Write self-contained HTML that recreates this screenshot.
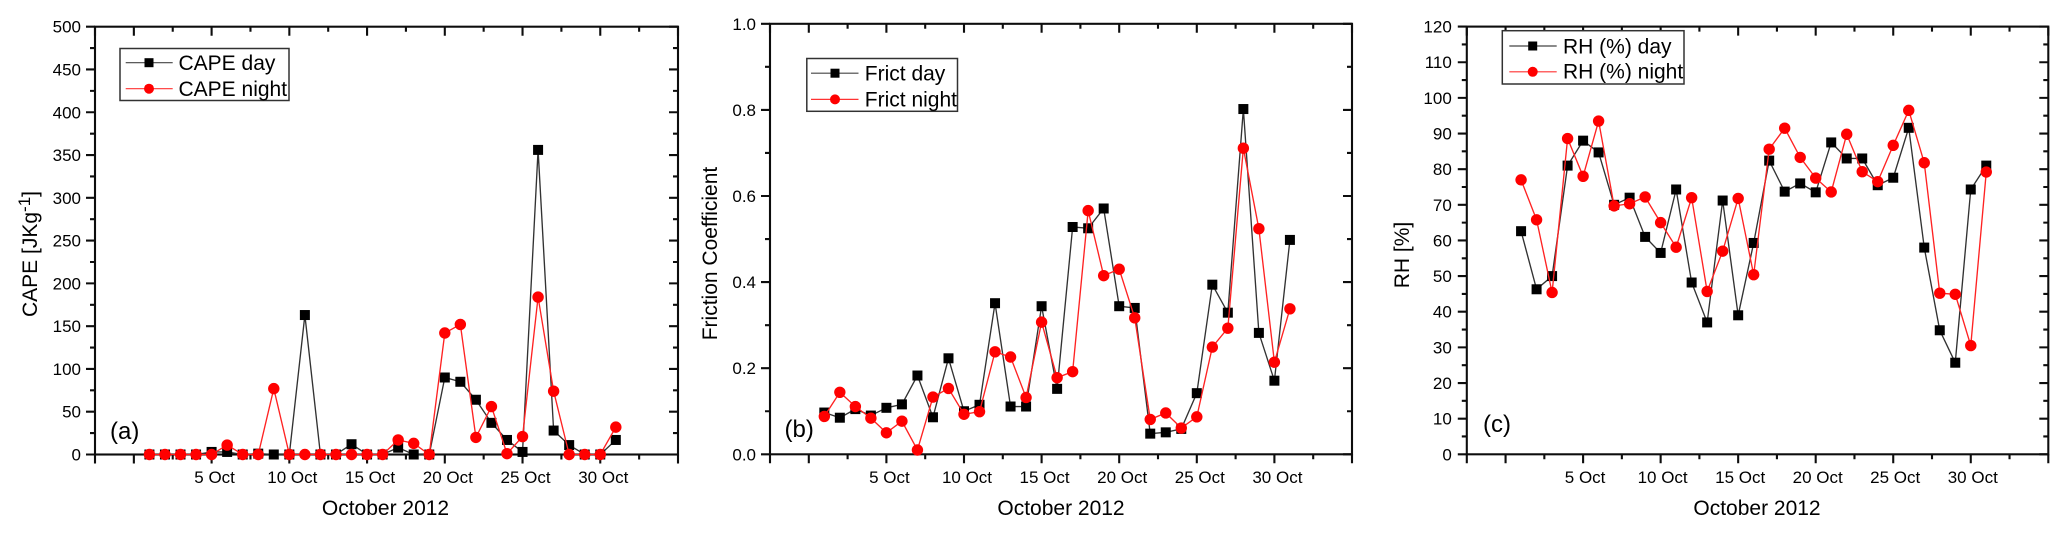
<!DOCTYPE html>
<html lang="en">
<head>
<meta charset="utf-8">
<title>CAPE, Friction Coefficient and RH, October 2012</title>
<style>
html,body{margin:0;padding:0;background:#fff;width:2067px;height:534px;overflow:hidden}
svg{display:block}
text{font-family:"Liberation Sans",Arial,sans-serif;fill:#000}
.tick{font-size:17px}
.leg{font-size:21px}
.title{font-size:21px}
.tag{font-size:24px}
</style>
</head>
<body>
<svg id="figure" xmlns="http://www.w3.org/2000/svg" width="2067" height="534" viewBox="0 0 2067 534">
<defs>
  <filter id="soft" x="-2%" y="-2%" width="104%" height="104%"><feGaussianBlur stdDeviation="0.35"/></filter>
</defs>
<rect x="0" y="0" width="2067" height="534" fill="#fff"/>

<g id="panel-a">
  <text class="title" x="385.5" y="515" text-anchor="middle">October 2012</text>
  <text class="title" transform="translate(37,254) rotate(-90)" text-anchor="middle">CAPE [JKg<tspan font-size="17" dy="-7">-1</tspan><tspan dy="7">]</tspan></text>
  <text class="tag" x="110" y="439">(a)</text>
</g>
<g id="panel-b">
  <text class="title" x="1061" y="515" text-anchor="middle">October 2012</text>
  <text class="title" transform="translate(717,253.5) rotate(-90)" text-anchor="middle">Friction Coefficient</text>
  <text class="tag" x="784.5" y="437">(b)</text>
</g>
<g id="panel-c">
  <text class="title" x="1757" y="515" text-anchor="middle">October 2012</text>
  <text class="title" transform="translate(1409,255) rotate(-90)" text-anchor="middle">RH [%]</text>
  <text class="tag" x="1483" y="432">(c)</text>
</g>

<g id="legend-a">
  <rect x="120" y="48.5" width="169" height="52" fill="#fff" stroke="#333" stroke-width="1.5"/>
  <line x1="125.7" y1="62.7" x2="172.7" y2="62.7" stroke="#444" stroke-width="1.2"/>
  <rect x="144.5" y="58.2" width="9" height="9" fill="#000"/>
  <text class="leg" x="178.5" y="70">CAPE day</text>
  <line x1="125.7" y1="88.7" x2="172.7" y2="88.7" stroke="#f33" stroke-width="1.2"/>
  <circle cx="149" cy="88.7" r="5" fill="#f00"/>
  <text class="leg" x="178.5" y="96">CAPE night</text>
</g>
<g id="legend-b">
  <rect x="806.8" y="58.5" width="150.7" height="52.8" fill="#fff" stroke="#333" stroke-width="1.5"/>
  <line x1="811" y1="73.2" x2="858.5" y2="73.2" stroke="#444" stroke-width="1.2"/>
  <rect x="830.5" y="68.7" width="9" height="9" fill="#000"/>
  <text class="leg" x="864.8" y="80.5">Frict day</text>
  <line x1="811" y1="99.4" x2="858.5" y2="99.4" stroke="#f33" stroke-width="1.2"/>
  <circle cx="835" cy="99.4" r="5" fill="#f00"/>
  <text class="leg" x="864.8" y="106.5">Frict night</text>
</g>
<g id="legend-c">
  <rect x="1502.3" y="30.7" width="181.7" height="53.3" fill="#fff" stroke="#333" stroke-width="1.5"/>
  <line x1="1509.3" y1="46" x2="1556.7" y2="46" stroke="#444" stroke-width="1.2"/>
  <rect x="1528.2" y="41.5" width="9" height="9" fill="#000"/>
  <text class="leg" x="1563" y="53.3">RH (%) day</text>
  <line x1="1509.3" y1="71.8" x2="1556.7" y2="71.8" stroke="#f33" stroke-width="1.2"/>
  <circle cx="1532.7" cy="71.8" r="5" fill="#f00"/>
  <text class="leg" x="1563" y="78.6">RH (%) night</text>
</g>
</svg>
<script>
const days = [1,2,3,4,5,6,7,8,9,10,11,12,13,14,15,16,17,18,19,20,21,22,23,24,25,26,27,28,29,30,31];
const dateTicks = [5,10,15,20,25,30];
const dateTickLabels = ["5 Oct","10 Oct","15 Oct","20 Oct","25 Oct","30 Oct"];

const capeDay = [0,0,0,0,3,3,0,1,0,0,163,0,0,12,0,0,8,0,0,90,85,64,37,17,3,356,28,11,0,0,17];
const capeNight = [0,0,0,0,0,11,0,0,77,0,0,0,0,0,0,0,17,13,0,142,152,20,56,1,21,184,74,0,0,0,32];
const capeTicks = [0,50,100,150,200,250,300,350,400,450,500];
const capeTickLabels = ["0","50","100","150","200","250","300","350","400","450","500"];

const frictDay = [0.097,0.085,0.105,0.09,0.108,0.116,0.183,0.086,0.223,0.1,0.115,0.351,0.111,0.111,0.344,0.152,0.528,0.525,0.571,0.344,0.34,0.048,0.051,0.059,0.142,0.394,0.329,0.802,0.282,0.171,0.498];
const frictNight = [0.088,0.144,0.111,0.084,0.05,0.077,0.01,0.133,0.153,0.093,0.099,0.238,0.226,0.132,0.307,0.178,0.192,0.566,0.415,0.43,0.317,0.081,0.096,0.061,0.087,0.249,0.293,0.711,0.524,0.214,0.338];
const frictTicks = [0,0.2,0.4,0.6,0.8,1];
const frictTickLabels = ["0.0","0.2","0.4","0.6","0.8","1.0"];

const rhDay = [62.6,46.3,50,81,88,84.7,70,72,61,56.5,74.3,48.2,37,71.2,39,59.3,82.4,73.7,76,73.5,87.5,83,83,75.5,77.6,91.6,58,34.8,25.7,74.3,81];
const rhNight = [77,65.8,45.4,88.6,78,93.5,69.7,70.3,72.2,65,58.1,72,45.7,57,71.8,50.4,85.6,91.5,83.3,77.5,73.6,89.8,79.3,76.5,86.7,96.5,81.8,45.2,44.9,30.5,79.2];
const rhTicks = [0,10,20,30,40,50,60,70,80,90,100,110,120];
const rhTickLabels = ["0","10","20","30","40","50","60","70","80","90","100","110","120"];

const NS = "http://www.w3.org/2000/svg";
const AXIS = "#111";

function make(parent, tag, attrs, text) {
  const el = document.createElementNS(NS, tag);
  for (const k in attrs) el.setAttribute(k, attrs[k]);
  if (text !== undefined) el.textContent = text;
  parent.appendChild(el);
  return el;
}

function drawPanel(cfg) {
  const root = document.getElementById(cfg.id);
  root.setAttribute("filter", "url(#soft)");
  const xDomain = [-2.5, 35];
  const sx = d => cfg.left + (d - xDomain[0]) * (cfg.right - cfg.left) / (xDomain[1] - xDomain[0]);
  const sy = v => cfg.bottom - v * (cfg.bottom - cfg.top) / cfg.yMax;

  const axes = make(root, "g", {stroke: AXIS, "stroke-width": 2.1, fill: "none"});
  
  
  make(axes, "rect", {x: cfg.left, y: cfg.top, width: cfg.right - cfg.left, height: cfg.bottom - cfg.top});

  // vertical-position ticks: outward on the left, inward on the right
  const yStep = cfg.yTicks[1] - cfg.yTicks[0];
  cfg.yTicks.forEach((v, i) => {
    const y = sy(v);
    const major = make(axes, "path", {d: `M${cfg.left - 9} ${y}H${cfg.left}M${cfg.right - 9} ${y}H${cfg.right}`});
    
    
    const lab = make(root, "text", {class: "tick", x: cfg.left - cfg.labelGap, y: y + 6, "text-anchor": "end"}, cfg.yLabels[i]);
    
    
    if (i < cfg.yTicks.length - 1) {
      const m = sy(v + yStep / 2);
      const minor = make(axes, "path", {d: `M${cfg.left - 5} ${m}H${cfg.left}M${cfg.right - 5} ${m}H${cfg.right}`});
      
      
    }
  });

  // date ticks: outward on the bottom, inward on the top
  for (let d = xDomain[0]; d <= xDomain[1]; d += 2.5) {
    const x = sx(d);
    const isMajor = d % 5 === 0 || d === xDomain[0];
    const len = isMajor ? 9 : 5;
    const t = make(axes, "path", {d: `M${x} ${cfg.bottom}V${cfg.bottom + len}M${x} ${cfg.top}V${cfg.top + len}`});
    
    
  }
  dateTicks.forEach((d, i) => {
    const lab = make(root, "text", {class: "tick", x: sx(d) + cfg.labelShift, y: 483, "text-anchor": "middle"}, dateTickLabels[i]);
    
    
  });

  // series: day first, night on top
  const dayLine = make(root, "polyline", {fill: "none", stroke: "#333", "stroke-width": 1.35,
    points: days.map((d, i) => `${sx(d)},${sy(cfg.day[i])}`).join(" ")});
  
  
  days.forEach((d, i) => {
    const p = make(root, "rect", {x: sx(d) - 5, y: sy(cfg.day[i]) - 5, width: 10, height: 10, fill: "#000"});
    
    
  });
  const nightLine = make(root, "polyline", {fill: "none", stroke: "#f22", "stroke-width": 1.35,
    points: days.map((d, i) => `${sx(d)},${sy(cfg.night[i])}`).join(" ")});
  
  
  days.forEach((d, i) => {
    const p = make(root, "circle", {cx: sx(d), cy: sy(cfg.night[i]), r: 5.7, fill: "#f00"});
    
    
  });
}

drawPanel({id: "panel-a", left: 95, right: 678, top: 26.7, bottom: 454.5, yMax: 500, labelGap: 14, labelShift: 3,
  yTicks: capeTicks, yLabels: capeTickLabels, day: capeDay, night: capeNight});
drawPanel({id: "panel-b", left: 770, right: 1352, top: 23.8, bottom: 454.3, yMax: 1, labelGap: 14, labelShift: 3,
  yTicks: frictTicks, yLabels: frictTickLabels, day: frictDay, night: frictNight});
drawPanel({id: "panel-c", left: 1466.8, right: 2048.3, top: 26.6, bottom: 454.3, yMax: 120, labelGap: 15, labelShift: 2,
  yTicks: rhTicks, yLabels: rhTickLabels, day: rhDay, night: rhNight});

// keep the legends above the series
const fig = document.getElementById("figure");
["legend-a", "legend-b", "legend-c"].forEach(id => {
  const g = document.getElementById(id);
  g.setAttribute("filter", "url(#soft)");
  fig.appendChild(g);
});
</script>
</body>
</html>
